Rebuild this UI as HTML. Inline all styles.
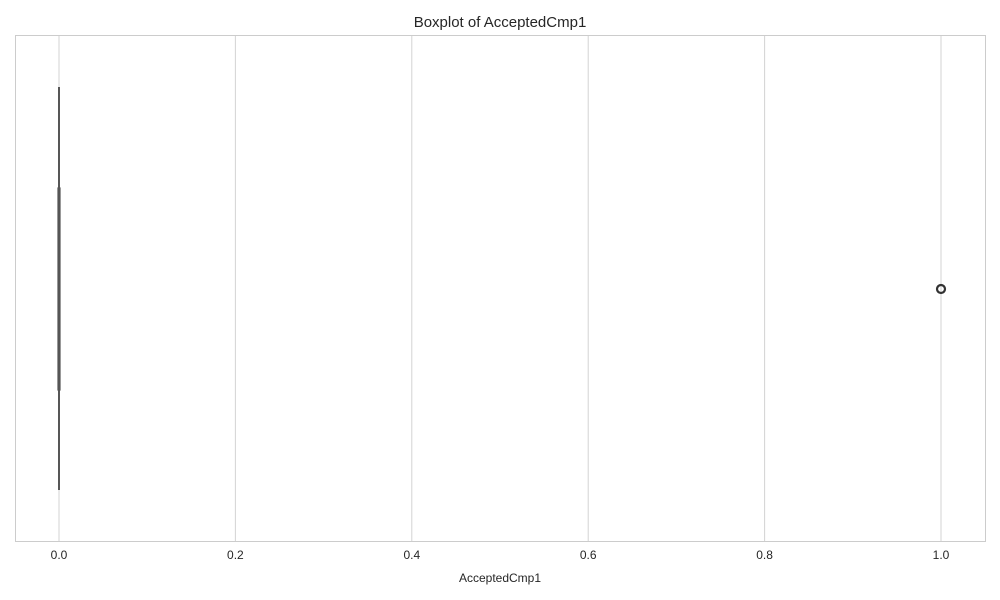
<!DOCTYPE html>
<html><head><meta charset="utf-8"><style>body{margin:0;background:#fff}svg{display:block;font-family:"Liberation Sans",sans-serif}</style></head>
<body>
<svg id="chart" width="1000" height="600">
<rect x="0" y="0" width="1000" height="600" fill="#fff"/>
<text x="500" y="27" text-anchor="middle" font-size="15" fill="#262626">Boxplot of AcceptedCmp1</text>
<text x="500" y="582" text-anchor="middle" font-size="12" fill="#262626">AcceptedCmp1</text>
<g id="grid"></g><g id="marks"></g>
<rect x="15.5" y="35.5" width="970" height="506" fill="none" stroke="#ccc"/>
</svg>
<script>
const ticks=[0,0.2,0.4,0.6,0.8,1.0];
const tickLabels=["0.0","0.2","0.4","0.6","0.8","1.0"];
const stats=[0,0,0,0,0]; // min,q1,median,q3,max
const outliers=[1];
const NS="http://www.w3.org/2000/svg";
const x=v=>59+v*(941-59);
const yC=289,boxH=202,whisk=[87,490];
const grid=document.getElementById('grid'),marks=document.getElementById('marks');
function mk(tag,attrs,parent){const e=document.createElementNS(NS,tag);for(const k in attrs)e.setAttribute(k,attrs[k]);parent.appendChild(e);return e;}
ticks.forEach((t,i)=>{
 const l=mk('line',{x1:x(t),x2:x(t),y1:35,y2:541,stroke:'#d3d3d3','stroke-width':1},grid);
 
 
 const tx=mk('text',{x:x(t),y:559,'text-anchor':'middle','font-size':12,fill:'#262626'},grid);
 tx.textContent=tickLabels[i];
 
 
});
const w=mk('line',{x1:x(stats[0]),x2:x(stats[0]),y1:whisk[0],y2:whisk[1],stroke:'#444','stroke-width':1.8},marks);


const b=mk('rect',{x:x(stats[1])-1,y:yC-boxH/2,width:Math.max(2,x(stats[3])-x(stats[1])+2),height:boxH,fill:'#555',stroke:'#555','stroke-width':1.2},marks);


outliers.forEach(o=>{
 const c=mk('circle',{cx:x(o),cy:yC,r:4,fill:'none',stroke:'#333','stroke-width':2.2},marks);
 
 
});
</script>
</body></html>
